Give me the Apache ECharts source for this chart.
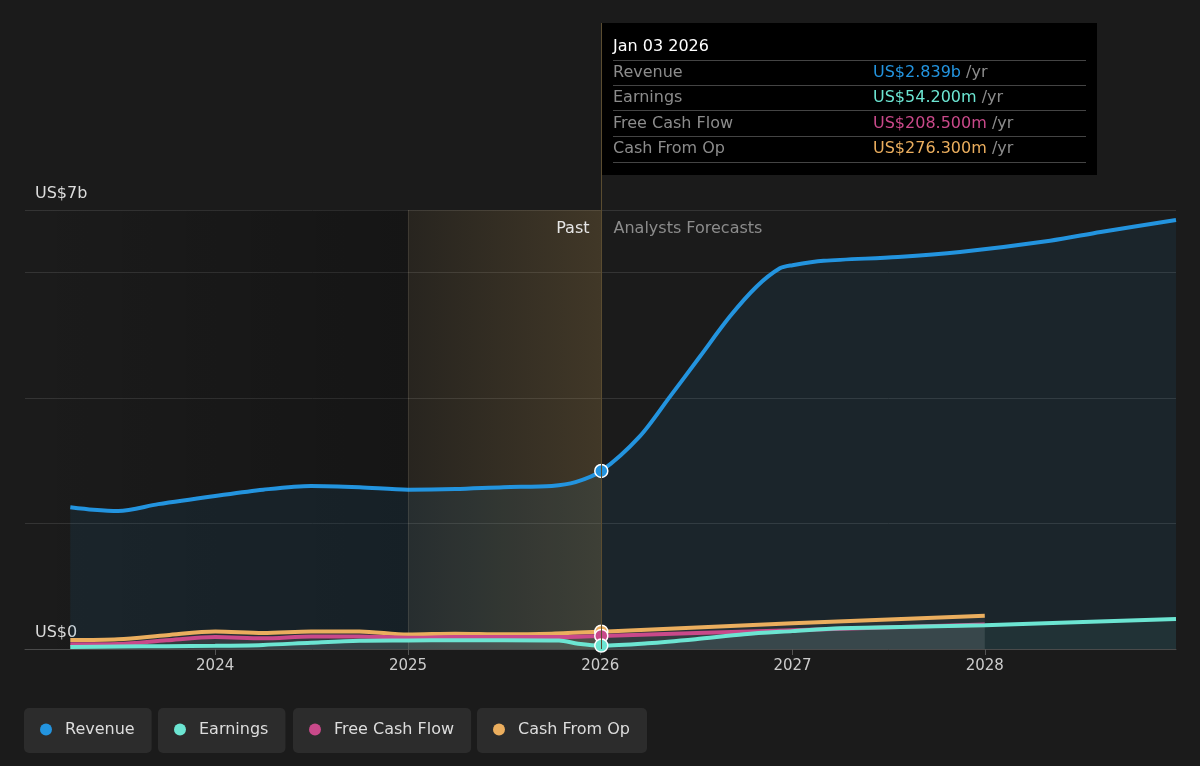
<!DOCTYPE html>
<html><head><meta charset="utf-8">
<script src="https://cdn.jsdelivr.net/npm/echarts@6/dist/echarts.min.js"></script>
<style>html,body{margin:0;padding:0;background:#1b1b1b;}#c{width:1200px;height:766px;}</style>
</head><body><div id="c"></div><script>
const FONT = 'DejaVu Sans';
const seriesNames = ['Revenue', 'Earnings', 'Free Cash Flow', 'Cash From Op'];
const seriesColors = ['#2394DF', '#6CE5D2', '#C9498A', '#EBAE5E'];

const revenueDates = ['2023-04-01','2023-05-15','2023-07-01','2023-09-15','2024-01-01','2024-04-01','2024-07-01','2024-10-01','2025-01-01','2025-04-01','2025-07-01','2025-10-01','2025-11-15','2026-01-03','2026-03-17','2026-05-13','2026-07-09','2026-09-04','2026-10-25','2026-12-08','2027-01-01','2027-03-01','2027-07-20','2027-11-15','2028-05-04','2028-08-08','2028-12-29'];
const revenueValues = [2.26,2.22,2.20,2.31,2.44,2.54,2.60,2.58,2.54,2.55,2.58,2.60,2.66,2.839,3.39,4.02,4.66,5.30,5.78,6.07,6.12,6.19,6.25,6.33,6.51,6.65,6.84];

const earningsDates = ['2023-04-01','2023-07-01','2023-10-01','2024-01-01','2024-04-01','2024-07-01','2024-10-01','2025-01-01','2025-04-01','2025-07-01','2025-10-15','2025-11-20','2026-01-03','2026-04-01','2026-07-01','2026-10-01','2027-01-01','2027-04-01','2028-01-01','2028-12-29'];
const earningsValues = [0.03,0.04,0.045,0.05,0.065,0.10,0.13,0.135,0.14,0.14,0.135,0.085,0.0542,0.09,0.155,0.235,0.285,0.33,0.38,0.48];

const fcfDates = ['2023-04-01','2023-07-01','2023-10-01','2024-01-01','2024-04-01','2024-07-01','2024-10-01','2025-01-01','2025-04-01','2025-07-01','2025-10-01','2026-01-03','2027-01-01','2028-01-01'];
const fcfValues = [0.075,0.08,0.14,0.19,0.17,0.20,0.20,0.18,0.19,0.19,0.19,0.2085,0.30,0.39];

const cfoDates = ['2023-04-01','2023-07-01','2023-10-01','2024-01-01','2024-04-01','2024-07-01','2024-10-01','2025-01-01','2025-04-01','2025-07-01','2025-10-01','2026-01-03','2027-01-01','2028-01-01'];
const cfoValues = [0.143,0.155,0.22,0.28,0.255,0.28,0.28,0.23,0.245,0.235,0.245,0.2763,0.41,0.53];

const highlightDate = '2026-01-03';
const pastStart = '2025-01-01';
const axisStart = '2023-01-05';
const axisEnd = '2028-12-29';
const tooltipTitle = 'Jan 03 2026';
const tooltipValues = ['US$2.839b', 'US$54.200m', 'US$208.500m', 'US$276.300m'];
const yLabels = {0: 'US$0', 7: 'US$7b'};
const pastLabel = 'Past';
const forecastLabel = 'Analysts Forecasts';

const t = s => new Date(s + 'T00:00:00').getTime();
const HL = t(highlightDate);

function makeData(dates, values, color) {
  return dates.map((d, i) => {
    const tt = t(d);
    if (tt === HL) {
      return {value: [tt, values[i]], symbol: 'circle', symbolSize: 13,
        itemStyle: {color: color, borderColor: '#ffffff', borderWidth: 1.5}};
    }
    return {value: [tt, values[i]], symbol: 'none'};
  });
}

const allDates = [revenueDates, earningsDates, fcfDates, cfoDates];
const allValues = [revenueValues, earningsValues, fcfValues, cfoValues];
const areaColors = ['rgba(35,148,223,0.12)', 'rgba(108,229,210,0.10)', 'rgba(150,150,150,0.16)', 'rgba(150,150,150,0.16)'];

const chart = echarts.init(document.getElementById('c'), null, {renderer: 'canvas'});

const series = seriesNames.map((n, i) => ({
  name: n, type: 'line', z: 3 + (i === 0 ? 0 : 4 - i),
  color: seriesColors[i],
  smooth: 0.3,
  showSymbol: true, showAllSymbol: true, symbol: 'none',
  lineStyle: {width: 4, color: seriesColors[i]},
  areaStyle: {color: areaColors[i], origin: 'start'},
  emphasis: {disabled: true},
  data: makeData(allDates[i], allValues[i], seriesColors[i])
}));

series.push({
  name: 'pastShade', type: 'line', data: [], z: 1, silent: true,
  markArea: {silent: true, data: [[
    {xAxis: t(axisStart), itemStyle: {color: new echarts.graphic.LinearGradient(0,0,1,0,[{offset:0,color:'rgba(0,0,0,0)'},{offset:1,color:'rgba(0,0,0,0.22)'}])}},
    {xAxis: t(pastStart)}
  ]]}
});
series.push({
  name: 'pastHighlight', type: 'line', data: [], z: 20, silent: true,
  markArea: {silent: true, data: [[
    {xAxis: t(pastStart), itemStyle: {color: new echarts.graphic.LinearGradient(0,0,1,0,[{offset:0,color:'rgba(190,150,80,0.08)'},{offset:1,color:'rgba(190,150,80,0.23)'}])}},
    {xAxis: HL}
  ]]},
  markLine: {silent: true, symbol: 'none', label: {show: false},
    lineStyle: {color: 'rgba(200,190,170,0.14)', width: 1, type: 'solid'},
    data: [{xAxis: t(pastStart)}]}
});

const legendLefts = [24, 158, 293, 477];
const legends = seriesNames.map((n, i) => ({
  data: [{name: n, icon: 'circle'}],
  left: legendLefts[i], top: 708,
  backgroundColor: '#2c2c2c', borderRadius: 5,
  padding: [12, 17, 14, 16],
  itemWidth: 12, itemHeight: 12,
  textStyle: {color: '#dddddd', fontSize: 16, fontFamily: FONT, padding: [0, 0, 0, 8], lineHeight: 19}
}));

chart.setOption({
  animation: false,
  backgroundColor: '#1b1b1b',
  textStyle: {fontFamily: FONT},
  grid: {left: 25, right: 24, top: 210, bottom: 117, containLabel: false},
  legend: legends,
  xAxis: {
    type: 'time', min: t(axisStart), max: t(axisEnd),
    minInterval: 365 * 86400000, splitNumber: 6,
    axisLine: {lineStyle: {color: '#4a4a4a', width: 1}},
    axisTick: {show: true, length: 6, lineStyle: {color: '#555'}},
    splitLine: {show: false},
    axisLabel: {color: '#cccccc', fontSize: 15, fontFamily: FONT, margin: 10,
      formatter: v => String(new Date(v).getFullYear())}
  },
  yAxis: {
    type: 'value', min: 0, max: 7, interval: 2,
    axisLine: {show: false}, axisTick: {show: false},
    splitLine: {lineStyle: {color: '#343434', width: 1}},
    axisLabel: {inside: true, margin: 10, color: '#dddddd', fontSize: 16, fontFamily: FONT,
      verticalAlign: 'bottom', padding: [0, 0, 8, 0],
      formatter: v => yLabels[v] || ''}
  },
  series: series
});

// overlay: highlight line, tooltip box, past/forecast labels
const px = Math.round(chart.convertToPixel({xAxisIndex: 0}, HL)) + 0.5;
const gridBottom = chart.convertToPixel({yAxisIndex: 0}, 0);
const gridTop = chart.convertToPixel({yAxisIndex: 0}, 7);
const boxTop = 23, boxW = 496, boxH = 152;
const rowLabelColor = '#8c8c8c';
const F = '16px ' + FONT;
const children = [
  {type: 'rect', shape: {x: 0, y: 0, width: boxW, height: boxH}, style: {fill: '#000000'}},
  {type: 'text', style: {text: tooltipTitle, x: 12, y: 24, fill: '#ffffff', font: F, verticalAlign: 'middle'}}
];
const sepYs = [37, 62, 87, 113, 139];
sepYs.forEach(y => children.push({type: 'line', shape: {x1: 12, y1: y + 0.5, x2: 485, y2: y + 0.5}, style: {stroke: '#444444', lineWidth: 1}}));
const rowYs = [50, 75, 101, 126];
seriesNames.forEach((n, i) => {
  children.push({type: 'text', style: {text: n, x: 12, y: rowYs[i], fill: rowLabelColor, font: F, verticalAlign: 'middle'}});
  children.push({type: 'text', style: {text: '{v|' + tooltipValues[i] + '} {u|/yr}', x: 272, y: rowYs[i], font: F, verticalAlign: 'middle',
    rich: {v: {fill: seriesColors[i], font: F}, u: {fill: rowLabelColor, font: F}}}});
});

chart.setOption({
  graphic: [
    {type: 'line', z: 50, silent: true, shape: {x1: px, y1: boxTop, x2: px, y2: gridBottom}, style: {stroke: '#5a4c30', lineWidth: 1}},
    {type: 'text', z: 50, silent: true, style: {text: pastLabel, x: px - 12, y: gridTop + 19, align: 'right', verticalAlign: 'middle', fill: '#e6e6e6', font: F}},
    {type: 'text', z: 50, silent: true, style: {text: forecastLabel, x: px + 12, y: gridTop + 19, align: 'left', verticalAlign: 'middle', fill: '#8c8c8c', font: F}},
    {type: 'group', z: 60, x: px - 0.5, y: boxTop, children: children}
  ]
});
</script></body></html>
